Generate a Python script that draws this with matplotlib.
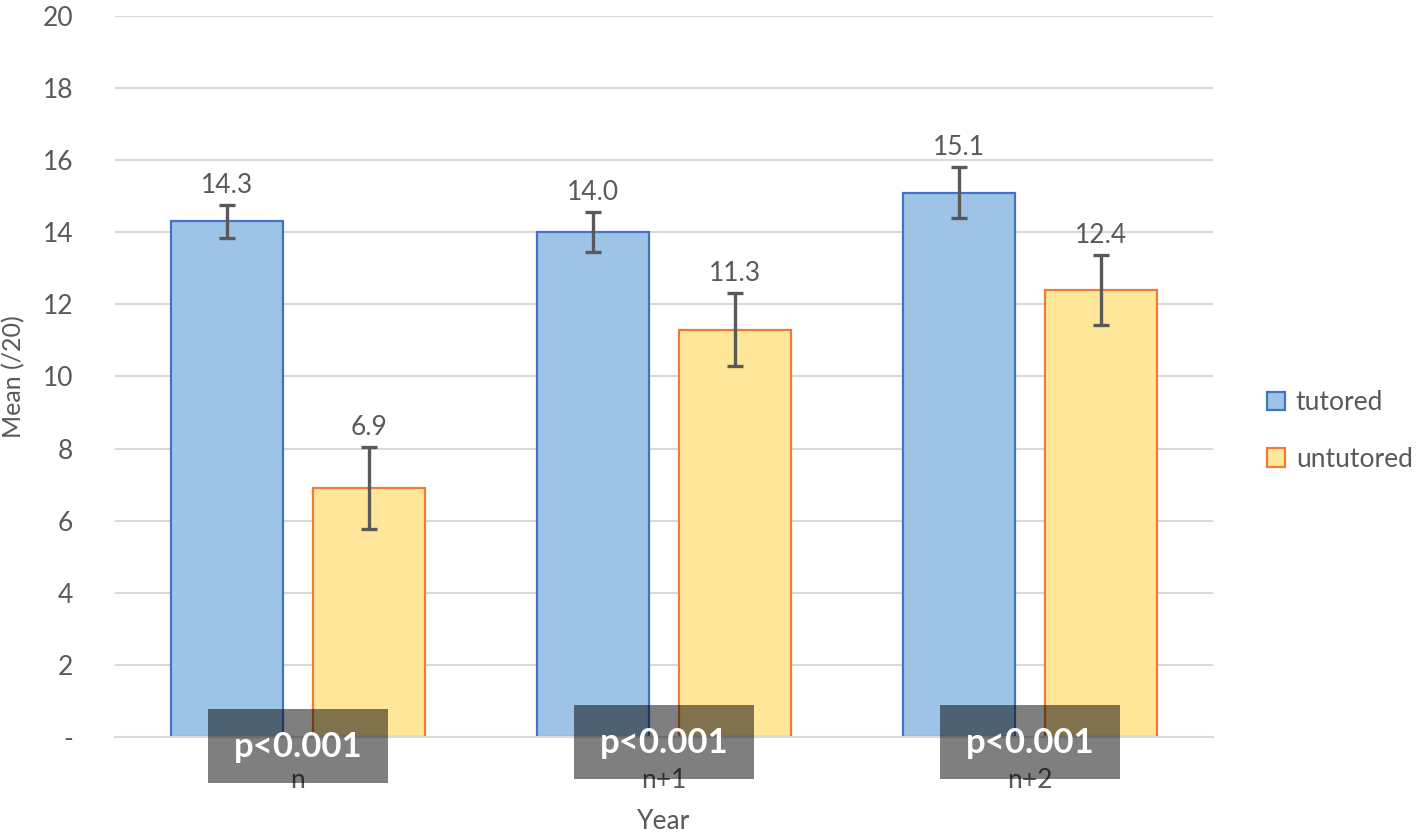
import numpy as np
import matplotlib.pyplot as plt
from matplotlib.patches import Rectangle

# datos
years = ["n", "n+1", "n+2"]
tutored = [14.3, 14.0, 15.1]
untutored = [6.9, 11.3, 12.4]
err_tutored = [0.47, 0.56, 0.71]
err_untutored = [1.14, 1.02, 0.97]
pvalues = ["p<0.001", "p<0.001", "p<0.001"]
yticks = [0, 2, 4, 6, 8, 10, 12, 14, 16, 18, 20]
ytick_labels = ["-", "2", "4", "6", "8", "10", "12", "14", "16", "18", "20"]

plt.rcParams["font.family"] = ["Lato", "DejaVu Sans"]
gris = "#595959"

fig = plt.figure(figsize=(14.22, 8.35), dpi=100)
ax = fig.add_axes([115 / 1422, 98 / 835, 1098 / 1422, 721 / 835])

x = np.arange(len(years))
ancho = 0.306
desp = 0.194

b1 = ax.bar(x - desp, tutored, ancho, color="#9DC3E6", edgecolor="#4472C4",
            linewidth=1.6, label="tutored", zorder=2)
b2 = ax.bar(x + desp, untutored, ancho, color="#FFE699", edgecolor="#ED7D31",
            linewidth=1.6, label="untutored", zorder=2)

ax.errorbar(x - desp, tutored, yerr=err_tutored, fmt="none", ecolor=gris,
            elinewidth=2.4, capsize=6, capthick=2.4, zorder=3)
ax.errorbar(x + desp, untutored, yerr=err_untutored, fmt="none", ecolor=gris,
            elinewidth=2.4, capsize=6, capthick=2.4, zorder=3)

# etiquetas de valor encima de las barras de error
for xs, vals, errs in [(x - desp, tutored, err_tutored), (x + desp, untutored, err_untutored)]:
    for xi, v, e in zip(xs, vals, errs):
        ax.annotate(f"{v:.1f}", (xi, v + e), xytext=(0, 5), textcoords="offset points",
                    ha="center", va="bottom", fontsize=19, color=gris)

ax.set_xlim(-0.5, 2.5)
ax.set_ylim(0, 20)
ax.set_yticks(yticks)
ax.set_yticklabels(ytick_labels)
ax.set_xticks(x)
ax.set_xticklabels(years)
ax.tick_params(axis="both", length=0, labelsize=19, labelcolor=gris)
ax.tick_params(axis="y", pad=30)
ax.tick_params(axis="x", pad=22)
ax.grid(axis="y", color="#D9D9D9", linewidth=1.5, zorder=0)
ax.set_axisbelow(True)
for s in ["top", "right", "left"]:
    ax.spines[s].set_visible(False)
ax.spines["bottom"].set_color("#D9D9D9")
ax.spines["bottom"].set_linewidth(1.5)

ax.set_xlabel("Year", fontsize=19, color=gris, labelpad=12)
ax.set_ylabel("Mean (/20)", fontsize=18, color=gris)
ax.yaxis.set_label_coords(-0.082, 0.5)

# cajas de p-valor
ajustes_y = [-1.28, -1.17, -1.17]
for i, p in enumerate(pvalues):
    rect = Rectangle((i - 0.245, ajustes_y[i]), 0.49, 2.05, facecolor="black", alpha=0.5,
                     edgecolor="none", clip_on=False, zorder=5)
    ax.add_patch(rect)
    ax.text(i, ajustes_y[i] + 1.0, p, ha="center", va="center", fontsize=25,
            fontweight="bold", color="white", clip_on=False, zorder=6)

fig.legend(handles=[b1, b2], loc="center left", bbox_to_anchor=(1243 / 1422, 1 - 431 / 835),
           frameon=False, fontsize=19, labelcolor=gris, handlelength=0.7, handleheight=0.7,
           handletextpad=0.4, labelspacing=1.2)

plt.savefig("out.png", dpi=100)
